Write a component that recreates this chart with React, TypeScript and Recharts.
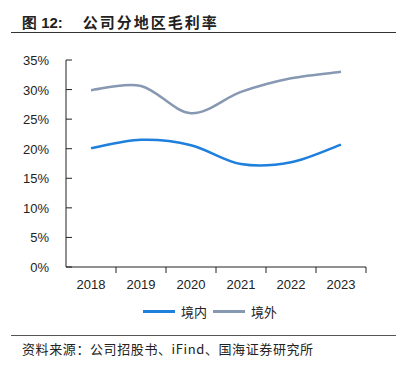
import React from 'react';
import { LineChart, Line, XAxis, YAxis, Legend } from 'recharts';

const years = ['2018', '2019', '2020', '2021', '2022', '2023'];
const domestic = [20.1, 21.5, 20.6, 17.4, 17.7, 20.7];
const overseas = [29.9, 30.6, 26.0, 29.6, 31.9, 33.0];
const yTicks = [0, 5, 10, 15, 20, 25, 30, 35];
const seriesNames = ['境内', '境外'];
const seriesColors = ['#1f7fdc', '#8798b2'];

const data = years.map((y, i) => ({ year: y, domestic: domestic[i], overseas: overseas[i] }));

const font = '"Liberation Sans", Arial, sans-serif';
const cjk = '"Noto Sans CJK SC", sans-serif';

// Catmull-Rom style smoothing (like office "smoothed line")
const smoothCurve = (context: any) => {
  let pts: number[][] = [];
  return {
    areaStart() {},
    areaEnd() {},
    lineStart() {
      pts = [];
    },
    lineEnd() {
      const n = pts.length;
      if (!n) return;
      context.moveTo(pts[0][0], pts[0][1]);
      for (let i = 0; i < n - 1; i++) {
        const p0 = pts[Math.max(i - 1, 0)];
        const p1 = pts[i];
        const p2 = pts[i + 1];
        const p3 = pts[Math.min(i + 2, n - 1)];
        context.bezierCurveTo(
          p1[0] + (p2[0] - p0[0]) / 6,
          p1[1] + (p2[1] - p0[1]) / 6,
          p2[0] - (p3[0] - p1[0]) / 6,
          p2[1] - (p3[1] - p1[1]) / 6,
          p2[0],
          p2[1]
        );
      }
    },
    point(x: number, y: number) {
      pts.push([+x, +y]);
    },
  };
};

const XTick = (props: any) => {
  const { x, y, payload, width, visibleTicksCount } = props;
  const half = width / visibleTicksCount / 2;
  return (
    <g>
      <line x1={x + half} x2={x + half} y1={y - 6 - 2} y2={y - 2} stroke="#222" strokeWidth={1} />
      <text x={x} y={y + 14} textAnchor="middle" fontSize={13} fontFamily={font} fill="#222">
        {payload.value}
      </text>
    </g>
  );
};

const YTick = (props: any) => {
  const { x, y, payload } = props;
  return (
    <g>
      <line x1={66} x2={72} y1={y} y2={y} stroke="#222" strokeWidth={1} />
      <text x={x} y={y + 5} textAnchor="end" fontSize={13} fontFamily={font} fill="#222">
        {payload.value}%
      </text>
    </g>
  );
};

const LegendContent = () => (
  <div style={{ display: 'flex', alignItems: 'center', fontFamily: cjk, fontSize: 13, color: '#222' }}>
    {seriesNames.map((n, i) => (
      <div key={n} style={{ display: 'flex', alignItems: 'center', marginRight: 6 }}>
        <div style={{ width: 32, height: 3, background: seriesColors[i], marginRight: 6 }} />
        <span>{n}</span>
      </div>
    ))}
  </div>
);

export default function App() {
  return (
    <div style={{ position: 'absolute', left: 0, top: 0, width: 396, height: 368, background: '#fff', overflow: 'hidden' }}>
      <div style={{ position: 'absolute', left: 22, top: 12, fontFamily: cjk, fontWeight: 700, fontSize: 15, color: '#222', whiteSpace: 'nowrap', lineHeight: '20px' }}>
        <span style={{ fontFamily: font }}>图 12:</span>
        <span style={{ marginLeft: 20, letterSpacing: 2 }}>公司分地区毛利率</span>
      </div>
      <div style={{ position: 'absolute', left: 11, top: 32, width: 385, height: 1, background: '#333' }} />
      <div style={{ position: 'absolute', left: 0, top: 0 }}>
        <LineChart width={396} height={300} data={data} margin={{ top: 60, right: 30, bottom: 0, left: 0 }}>
          <XAxis
            dataKey="year"
            scale="band"
            height={33}
            axisLine={{ stroke: '#222' }}
            tickLine={false}
            tick={<XTick />}
            interval={0}
          />
          <YAxis
            width={66}
            domain={[0, 35]}
            ticks={yTicks}
            axisLine={{ stroke: '#222' }}
            tickLine={false}
            tick={<YTick />}
            tickMargin={11}
            interval={0}
          />
          <Legend
            verticalAlign="middle"
            align="center"
            layout="horizontal"
            wrapperStyle={{ position: 'absolute', top: 302, left: 143, width: 200 }}
            content={<LegendContent />}
          />
          <Line
            type={smoothCurve as any}
            dataKey="domestic"
            name={seriesNames[0]}
            stroke={seriesColors[0]}
            strokeWidth={2.5}
            dot={false}
            isAnimationActive={false}
          />
          <Line
            type={smoothCurve as any}
            dataKey="overseas"
            name={seriesNames[1]}
            stroke={seriesColors[1]}
            strokeWidth={2.5}
            dot={false}
            isAnimationActive={false}
          />
        </LineChart>
      </div>
      <div style={{ position: 'absolute', left: 11, top: 335, width: 385, height: 1, background: '#555' }} />
      <div style={{ position: 'absolute', left: 22, top: 340, fontFamily: cjk, fontSize: 13, color: '#222', whiteSpace: 'nowrap', lineHeight: '18px', letterSpacing: 0.6 }}>
        资料来源：公司招股书、iFind、国海证券研究所
      </div>
    </div>
  );
}
